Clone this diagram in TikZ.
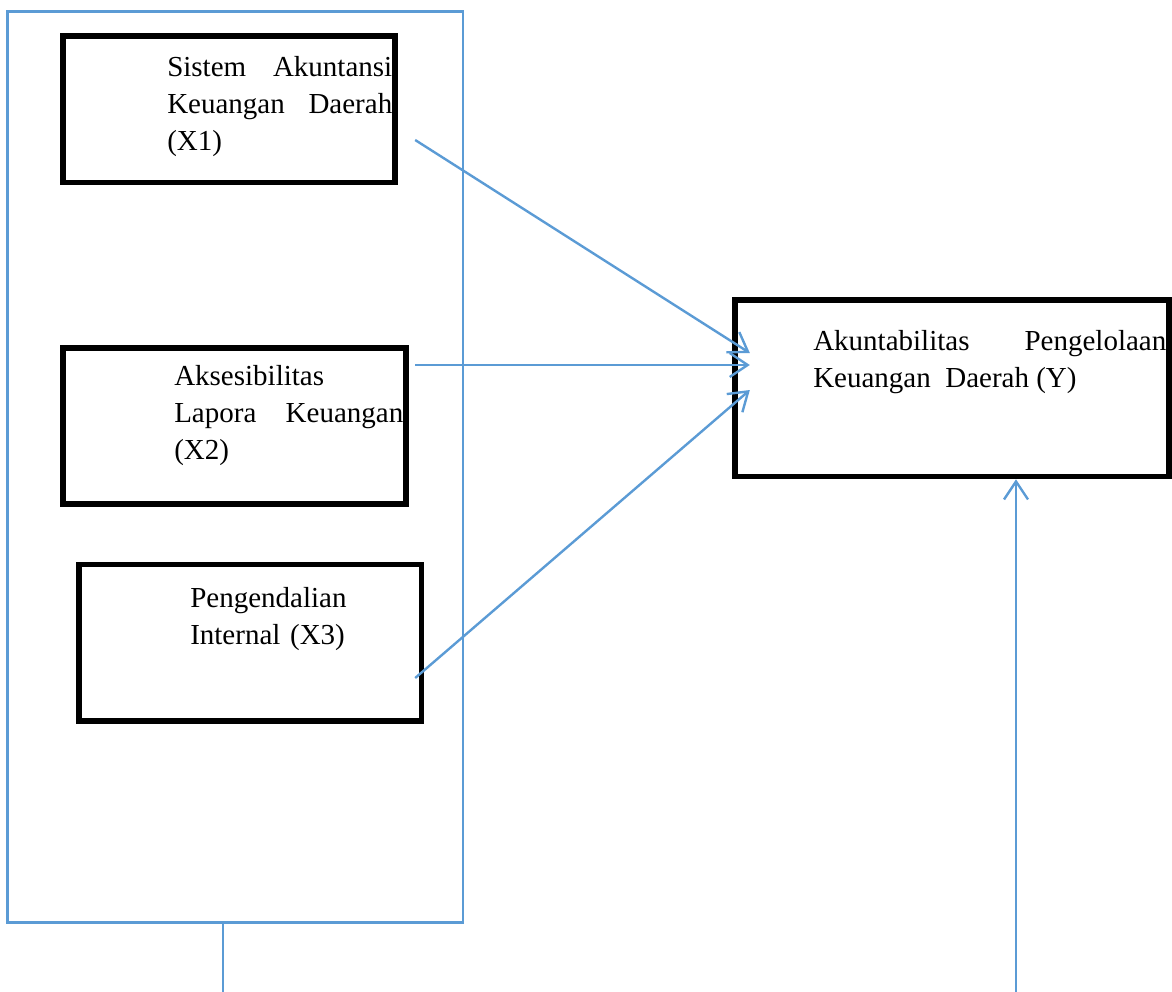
\documentclass[tikz,border=0pt]{standalone}
\usepackage{fontspec}
\setmainfont{Liberation Serif}
\usepackage{xcolor}
\usetikzlibrary{arrows.meta,positioning,calc}
\definecolor{linkblue}{RGB}{91,155,213}

\begin{document}
\begin{tikzpicture}[
    x=0.75pt, y=-0.75pt,
    box/.style={draw, line width=4pt, rectangle, inner sep=0pt},
    frame/.style={draw=linkblue, line width=1.8pt, rectangle, inner sep=0pt},
    lbl/.style={inner sep=0pt, anchor=base west, font=\fontsize{21.75pt}{27.75pt}\selectfont},
    wire/.style={draw=linkblue, line width=1.8pt},
    link/.style={wire, -{Straight Barb[length=13.5pt,width=18pt]}}
]
\useasboundingbox (0,0) rectangle (1172,992);

% outer group of the independent variables
\node[frame, minimum width=341.6pt, minimum height=683.25pt] (grp) at (235.25,467) {};

\node[box, minimum width=249pt, minimum height=109.9pt] (X1) at (229,109.3) {};
\node[box, minimum width=257.25pt, minimum height=117pt] (X2) at (234.5,426) {};
\node[box, minimum width=256.9pt, minimum height=117.4pt] (X3) at (250.25,642.75) {};
\node[box, minimum width=325.5pt, minimum height=132.5pt] (Y) at (952,388.3) {};

\node[lbl, text width=168.75pt, align=justify] (X1t) at (167,76.7)
    {Sistem Akuntansi\linebreak Keuangan Daerah\linebreak (X1)};
\node[lbl, text width=171.75pt, align=justify] (X2t) at (174,385)
    {Aksesibilitas\newline Lapora Keuangan\linebreak (X2)};
\node[lbl, text width=127.5pt, align=left] (X3t) at (190,607.7)
    {Pengendalian\newline Internal (X3)};
\node[lbl, text width=264.75pt, align=justify] (Yt) at (813,350.7)
    {Akuntabilitas Pengelolaan\linebreak Keuangan\ \ Daerah (Y)};

\draw[link] ($(X1.east)+(17.5,30.7)$) -- ($(Y.west)+(17.5,-35.3)$);
\draw[link] ($(X2.east)+(6.5,-61)$) -- ($(Y.west)+(17.5,-23.3)$);
\draw[link] ($(X3.east)+(-9,35.25)$) -- ($(Y.west)+(17.5,1.7)$);
\draw[wire] ($(grp.south)+(-12,0)$) -- ++(0,70);
\draw[link] ($(Y.south)+(64,513)$) -- ($(Y.south)+(64,0)$);
\end{tikzpicture}
\end{document}
